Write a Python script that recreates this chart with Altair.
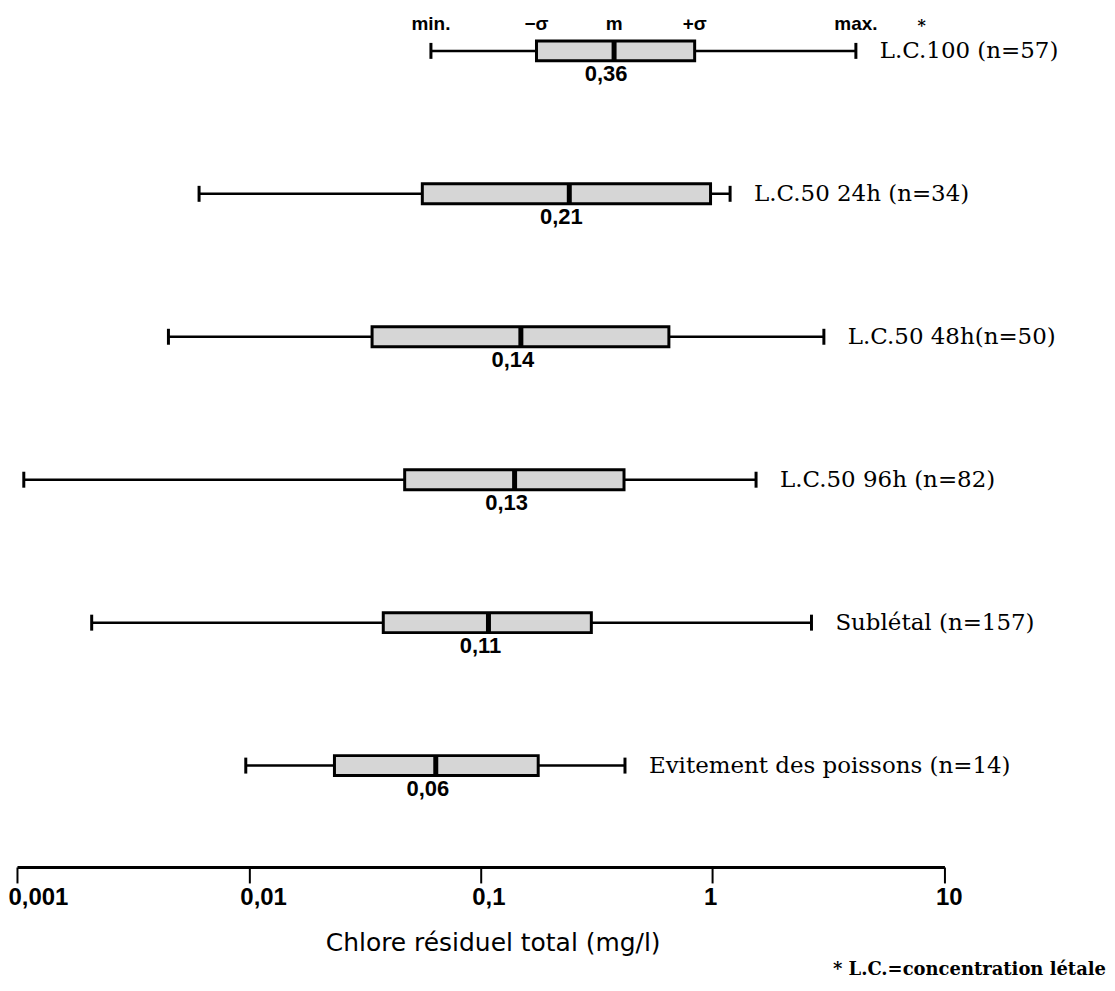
import altair as alt
import pandas as pd

rows = ["L.C.100 (n=57)", "L.C.50 24h (n=34)", "L.C.50 48h(n=50)",
        "L.C.50 96h (n=82)", "Sublétal (n=157)", "Evitement des poissons (n=14)"]
mins = [0.061, 0.0061, 0.0045, 0.00107, 0.0021, 0.0097]
lo_sigma = [0.174, 0.056, 0.034, 0.047, 0.038, 0.0234]
means = [0.376, 0.241, 0.149, 0.140, 0.108, 0.064]
hi_sigma = [0.837, 0.98, 0.648, 0.415, 0.30, 0.177]
maxs = [4.15, 1.19, 3.02, 1.54, 2.67, 0.419]
mean_labels = ["0,36", "0,21", "0,14", "0,13", "0,11", "0,06"]
header_labels = ["min.", "−σ", "m", "+σ", "max."]
tick_values = [0.001, 0.01, 0.1, 1, 10]
x_title = "Chlore résiduel total (mg/l)"
footnote = "* L.C.=concentration létale"

df = pd.DataFrame({"row": rows, "mn": mins, "lo": lo_sigma, "med": means,
                   "hi": hi_sigma, "mx": maxs, "lab": mean_labels})
hdr = pd.DataFrame({"row": [rows[0]] * 5, "h": header_labels,
                    "v": [mins[0], lo_sigma[0], means[0], hi_sigma[0], maxs[0]]})

xscale = alt.Scale(type="log", domain=[0.001, 10], nice=False)
xaxis = alt.Axis(values=tick_values, labelExpr="replace(format(datum.value, '~g'), '.', ',')",
                 domainColor="black", domainWidth=3, tickColor="black", tickWidth=2,
                 tickSize=16, offset=73, labelFont="Liberation Sans", labelFontWeight="bold",
                 labelFontSize=24, labelColor="black", labelPadding=3, labelAlign="left",
                 labelOffset=-9, grid=False,
                 titleFont="DejaVu Sans", titleFontWeight="normal", titleFontSize=25,
                 titleColor="black", titlePadding=21, titleX=477, titleAlign="center",
                 labelFlush=False, labelOverlap=False)


def X(field):
    return alt.X(field, type="quantitative", scale=xscale, axis=xaxis, title=x_title)


Y = alt.Y("row:N", sort=rows, scale=alt.Scale(type="point", padding=0.2), axis=None)

base = alt.Chart(df)

whisker = base.mark_rule(strokeWidth=2.5, color="black").encode(x=X("mn"), x2="mx:Q", y=Y)
cap_min = base.mark_tick(thickness=3, size=16, color="black", opacity=1).encode(x=X("mn"), y=Y)
cap_max = base.mark_tick(thickness=3, size=16, color="black", opacity=1).encode(x=X("mx"), y=Y)
box = base.mark_bar(size=20, fill="#d6d6d6", stroke="black", strokeWidth=3, opacity=1).encode(
    x=X("lo"), x2="hi:Q", y=Y)
med = base.mark_tick(thickness=5, size=20, color="black", opacity=1).encode(x=X("med"), y=Y)
med_lab = base.mark_text(dy=23, dx=-8, font="Liberation Sans", fontWeight="bold",
                         fontSize=22, color="black").encode(x=X("med"), y=Y, text="lab:N")
row_lab = base.mark_text(align="left", dx=24, font="DejaVu Serif", fontSize=23,
                         color="black").encode(x=X("mx"), y=Y, text="row:N")
star = base.transform_filter(alt.datum.row == rows[0]).mark_text(
    text="*", dx=66, dy=-25, font="DejaVu Serif", fontSize=16, fontWeight="bold",
    color="black").encode(x=X("mx"), y=Y)
header = alt.Chart(hdr).mark_text(dy=-27, font="Liberation Sans", fontWeight="bold",
                                  fontSize=19, color="black").encode(x=X("v"), y=Y, text="h:N")
foot = alt.Chart(pd.DataFrame({"t": [footnote]})).mark_text(
    align="right", baseline="middle", font="DejaVu Serif", fontWeight="bold",
    fontSize=18, color="black").encode(x=alt.value(1092), y=alt.value(950), text="t:N")

chart = alt.layer(whisker, cap_min, cap_max, box, med, med_lab, row_lab, star, header, foot).properties(
    width=930, height=774,
    autosize=alt.AutoSizeParams(type="none"),
    padding={"left": 9, "top": 13, "right": 163, "bottom": 188},
    background="white",
).configure_view(stroke=None)

chart.save("out.html", embed_options={"renderer": "svg", "actions": False})
